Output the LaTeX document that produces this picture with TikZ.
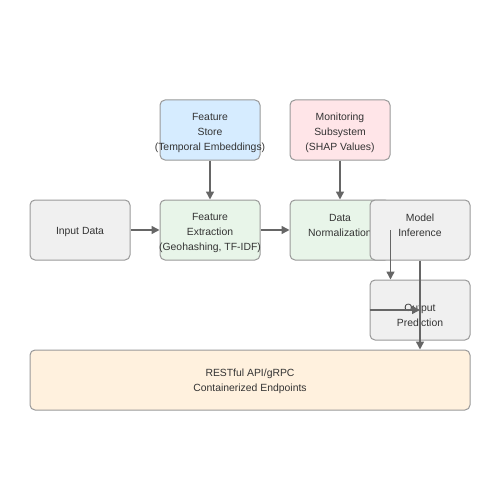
\documentclass[tikz,border=0pt]{standalone}
\usepackage{fontspec}
\setmainfont{Liberation Sans}
\usetikzlibrary{arrows.meta,positioning}
\definecolor{boxgray}{HTML}{999999}
\definecolor{arrowgray}{HTML}{666666}
\definecolor{txtgray}{HTML}{333333}
\definecolor{fillgray}{HTML}{F0F0F0}
\definecolor{fillblue}{HTML}{D6ECFF}
\definecolor{fillgreen}{HTML}{E8F5E9}
\definecolor{fillpink}{HTML}{FFE5E8}
\definecolor{fillorange}{HTML}{FFF1DE}
\tikzset{
  block/.style={draw=boxgray, line width=1pt, rounded corners=5pt, minimum width=100pt,
    minimum height=60pt},
  lbl/.style={align=center, inner sep=0pt, text=txtgray,
    font=\fontsize{10.4pt}{15pt}\selectfont},
  flow/.style={-{Triangle[length=8pt,width=8pt]}, draw=arrowgray, line width=1.5pt}
}
\begin{document}
\begin{tikzpicture}[x=1pt,y=-1pt]
			\useasboundingbox (0,0) rectangle (500,500);
			\node[block, fill=fillgray, label={[lbl, yshift=-2pt]center:Input Data}] (input) at (80,230) {};
			\node[block, fill=fillgreen, label={[lbl, yshift=-3pt]center:{Feature\\Extraction\\(Geohashing, TF-IDF)}}] (extract) at (210,230) {};
			\node[block, fill=fillblue, label={[lbl, yshift=-3pt]center:{Feature\\Store\\(Temporal Embeddings)}}] (store) at (210,130) {};
			\node[block, fill=fillpink, label={[lbl, yshift=-3pt]center:{Monitoring\\Subsystem\\(SHAP Values)}}] (monitor) at (340,130) {};
			\node[block, fill=fillgreen, label={[lbl, yshift=4.5pt]center:{Data\\Normalization}}] (norm) at (340,230) {};
			\node[block, fill=fillgray, label={[lbl, yshift=4.5pt]center:{Model\\Inference}}] (model) at (420,230) {};
			\node[block, fill=fillgray, label={[lbl, yshift=-5pt]center:{Output\\Prediction}}] (output) at (420,310) {};
			\node[block, fill=fillorange, minimum width=440pt, label={[lbl, yshift=-1pt]center:{RESTful API/gRPC\\Containerized Endpoints}}] (api) at (250,380) {};
			\draw[flow] (input) -- (extract);
			\draw[flow] (store) -- (extract);
			\draw[flow] (extract) -- (norm);
			\draw[flow] (monitor) -- (norm);
			\draw[flow] (norm.east) -- (norm.east |- output.north);
			\draw[flow] (model.south) -- (model.south |- api.north);
			\draw[flow] (output.west) -- (output.center);
		\end{tikzpicture}
\end{document}
